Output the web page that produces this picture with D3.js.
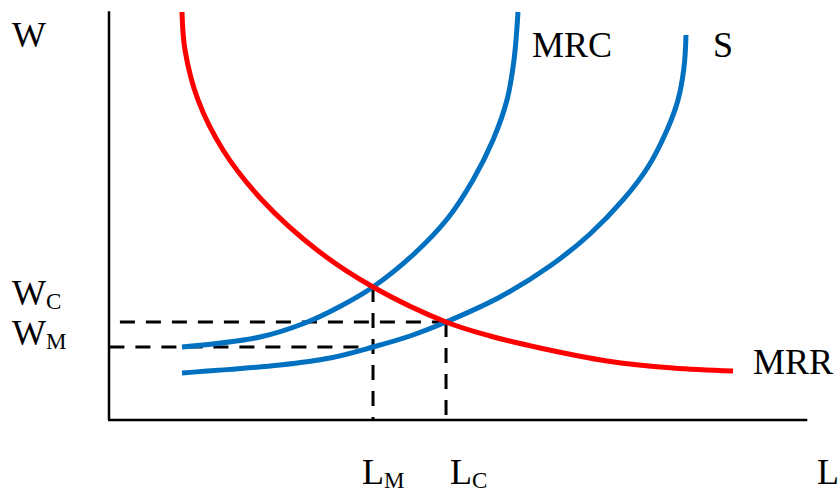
<!DOCTYPE html>
<html>
<head>
<meta charset="utf-8">
<script src="https://cdn.jsdelivr.net/npm/d3@7"></script>
<style>
  html, body { margin: 0; padding: 0; background: #fff; }
  svg { display: block; }
  text { font-family: "Liberation Serif", "Times New Roman", serif; fill: #000; }
</style>
</head>
<body>
<svg id="chart" width="838" height="493"></svg>
<script>
// Labour market with a monopsony employer: curves in (L, W) units
const mrrL = [1.057, 1.100, 1.286, 1.643, 2.200, 2.986, 3.786, 4.829, 5.457, 6.171, 7.129, 8.071, 8.929];
const mrrW = [9.951, 9.024, 7.805, 6.585, 5.366, 4.146, 3.244, 2.390, 2.049, 1.756, 1.439, 1.268, 1.195];

const mrcL = [1.057, 2.171, 2.814, 3.300, 3.786, 4.371, 4.857, 5.214, 5.500, 5.700, 5.800, 5.857];
const mrcW = [1.780, 2.024, 2.366, 2.756, 3.244, 4.049, 4.927, 5.854, 6.829, 7.805, 8.780, 9.951];

const supL = [1.057, 2.457, 3.171, 3.786, 4.314, 4.829, 5.600, 6.314, 6.886, 7.357, 7.714, 7.986, 8.143, 8.229, 8.257];
const supW = [1.146, 1.341, 1.512, 1.780, 2.049, 2.390, 3.000, 3.756, 4.537, 5.366, 6.171, 7.073, 7.805, 8.610, 9.390];

// Equilibrium values
const L_M = 3.786, L_C = 4.829;
const W_C = 2.39, W_M = 1.78;
const W_top = 3.244;         // MRC = MRR at L_M

const svg = d3.select("#chart");
const x = d3.scaleLinear().domain([0, 10]).range([108, 808]);
const y = d3.scaleLinear().domain([0, 10]).range([420, 10]);

const BLUE = "#0070c0", RED = "#ff0000";

// Axes
svg.append("line")
  .attr("x1", x(0) + 1).attr("x2", x(0) + 1)
  .attr("y1", y(0)).attr("y2", y(9.97))
  .attr("stroke", "#000").attr("stroke-width", 2.5);
svg.append("line")
  .attr("x1", x(0)).attr("x2", x(9.99))
  .attr("y1", y(0)).attr("y2", y(0))
  .attr("stroke", "#000").attr("stroke-width", 2.5);

// Dashed guide lines
const dash = "15,11";
const guides = [
  {x1: 0.17, y1: W_C, x2: L_C, y2: W_C},
  {x1: 0.02, y1: W_M, x2: L_M, y2: W_M},
  {x1: L_M, y1: W_top, x2: L_M, y2: 0},
  {x1: L_C, y1: W_C, x2: L_C, y2: 0}
];
svg.selectAll("line.guide").data(guides).join("line")
  .attr("class", "guide")
  .attr("x1", d => x(d.x1)).attr("y1", d => y(d.y1))
  .attr("x2", d => x(d.x2)).attr("y2", d => y(d.y2))
  .attr("stroke", "#000").attr("stroke-width", 3)
  .attr("stroke-dasharray", dash);

// Curves
const line = d3.line()
  .x(d => x(d[0])).y(d => y(d[1]))
  .curve(d3.curveCatmullRom.alpha(0.5));

const curves = [
  {L: mrcL, W: mrcW, color: BLUE},
  {L: supL, W: supW, color: BLUE},
  {L: mrrL, W: mrrW, color: RED}
];
svg.selectAll("path.curve").data(curves).join("path")
  .attr("class", "curve")
  .attr("d", c => line(d3.zip(c.L, c.W)))
  .attr("fill", "none")
  .attr("stroke", c => c.color)
  .attr("stroke-width", 5);

// Labels
const big = 36, small = 23;
function label(px, py, main, sub) {
  const t = svg.append("text").attr("x", px).attr("y", py).style("font-size", big + "px");
  t.append("tspan").text(main);
  if (sub) {
    t.append("tspan").attr("dy", 4).style("font-size", small + "px").text(sub);
  }
}
label(12, 47, "W");
label(12, y(W_C) - 17, "W", "C");
label(12, y(W_M) - 2, "W", "M");
label(x(L_M) - 11, 484, "L", "M");
label(x(L_C) + 4, 484, "L", "C");
label(817, 484, "L");
label(x(mrcL[mrcL.length - 1]) + 14, 57, "MRC");
label(x(supL[supL.length - 1]) + 27, 57, "S");
label(x(mrrL[mrrL.length - 1]) + 20, y(mrrW[mrrW.length - 1]) + 3, "MRR");
</script>
</body>
</html>
